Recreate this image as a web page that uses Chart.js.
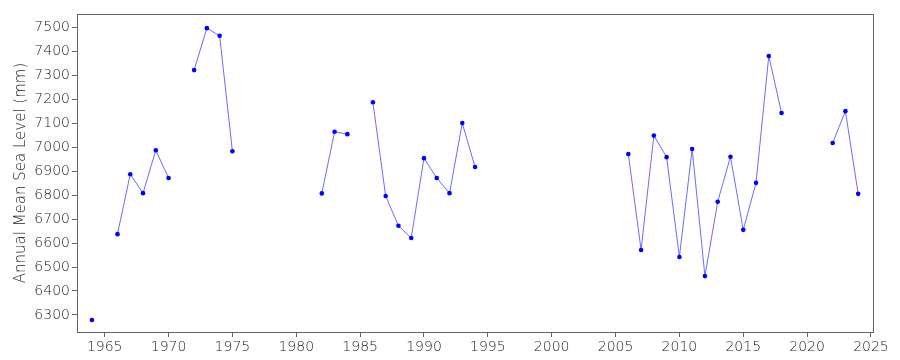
<!DOCTYPE html>
<html>
<head>
<meta charset="utf-8">
<script src="https://cdn.jsdelivr.net/npm/chart.js@4.4.1/dist/chart.umd.min.js"></script>
<style>
  html, body { margin: 0; padding: 0; background: #fff; }
  #wrap { width: 900px; height: 360px; }
</style>
</head>
<body>
<div id="wrap"><canvas id="sea_chart"></canvas></div>
<script>
// annual mean sea level, null = missing year
var years = [1964, 1965, 1966, 1967, 1968, 1969, 1970, 1971, 1972, 1973, 1974, 1975, 1976,
             1982, 1983, 1984, 1985, 1986, 1987, 1988, 1989, 1990, 1991, 1992, 1993, 1994, 1995,
             2006, 2007, 2008, 2009, 2010, 2011, 2012, 2013, 2014, 2015, 2016, 2017, 2018, 2019,
             2022, 2023, 2024];
var levels = [6279, null, 6637, 6887, 6808, 6987, 6871, null, 7321, 7496, 7464, 6983, null,
              6807, 7064, 7054, null, 7187, 6796, 6672, 6621, 6954, 6871, 6808, 7100, 6917, null,
              6971, 6571, 7048, 6958, 6542, 6992, 6462, 6772, 6960, 6655, 6851, 7380, 7142, null,
              7017, 7150, 6805];
var xTicks = [1965, 1970, 1975, 1980, 1985, 1990, 1995, 2000, 2005, 2010, 2015, 2020, 2025];
var yTicks = [6300, 6400, 6500, 6600, 6700, 6800, 6900, 7000, 7100, 7200, 7300, 7400, 7500];

var points = years.map(function(y, i) { return { x: y, y: levels[i] }; });

var frame = {
  id: 'frame',
  afterDraw: function(chart) {
    var a = chart.chartArea, ctx = chart.ctx;
    ctx.save();
    ctx.strokeStyle = '#666';
    ctx.lineWidth = 1;
    ctx.strokeRect(a.left + 0.5, a.top + 0.5, a.right - a.left, a.bottom - a.top);
    ctx.restore();
  }
};

function pickTicks(list) {
  return function(scale) {
    scale.ticks = list.map(function(v) { return { value: v }; });
  };
}

var fontName = '"DejaVu Sans ExtraLight", "DejaVu Sans"';
var tickFont = { family: fontName, size: 14, weight: 200 };

new Chart(document.getElementById('sea_chart').getContext('2d'), {
  type: 'line',
  data: {
    datasets: [{
      data: points,
      borderColor: 'rgba(70, 70, 255, 0.8)',
      borderWidth: 1,
      pointBackgroundColor: '#0000ff',
      pointBorderColor: '#0000ff',
      pointRadius: 2.3,
      pointBorderWidth: 0,
      spanGaps: false,
      tension: 0
    }]
  },
  plugins: [frame],
  options: {
    responsive: true,
    maintainAspectRatio: false,
    animation: false,
    layout: { padding: { left: 12, right: 27, top: 14, bottom: 0 } },
    plugins: { legend: { display: false }, tooltip: { enabled: false } },
    scales: {
      x: {
        type: 'linear',
        min: 1962.83,
        max: 2025.16,
        afterBuildTicks: pickTicks(xTicks),
        afterFit: function(scale) { scale.height = 28; },
        grid: { display: true, drawOnChartArea: false, tickLength: 5, color: '#666' },
        border: { display: true, color: '#666' },
        ticks: {
          color: '#222',
          font: tickFont,
          padding: 2,
          maxRotation: 0,
          callback: function(v) { return String(v); }
        }
      },
      y: {
        type: 'linear',
        min: 6229,
        max: 7555,
        afterBuildTicks: pickTicks(yTicks),
        afterFit: function(scale) { scale.width = 65; },
        grid: { display: true, drawOnChartArea: false, tickLength: 5, color: '#666' },
        border: { display: true, color: '#666' },
        title: {
          display: true,
          text: 'Annual Mean Sea Level (mm)',
          color: '#222',
          font: { family: fontName, size: 15, weight: 200 },
          padding: 0
        },
        ticks: {
          color: '#222',
          font: tickFont,
          padding: 2,
          callback: function(v) { return String(v); }
        }
      }
    }
  }
});
</script>
</body>
</html>
